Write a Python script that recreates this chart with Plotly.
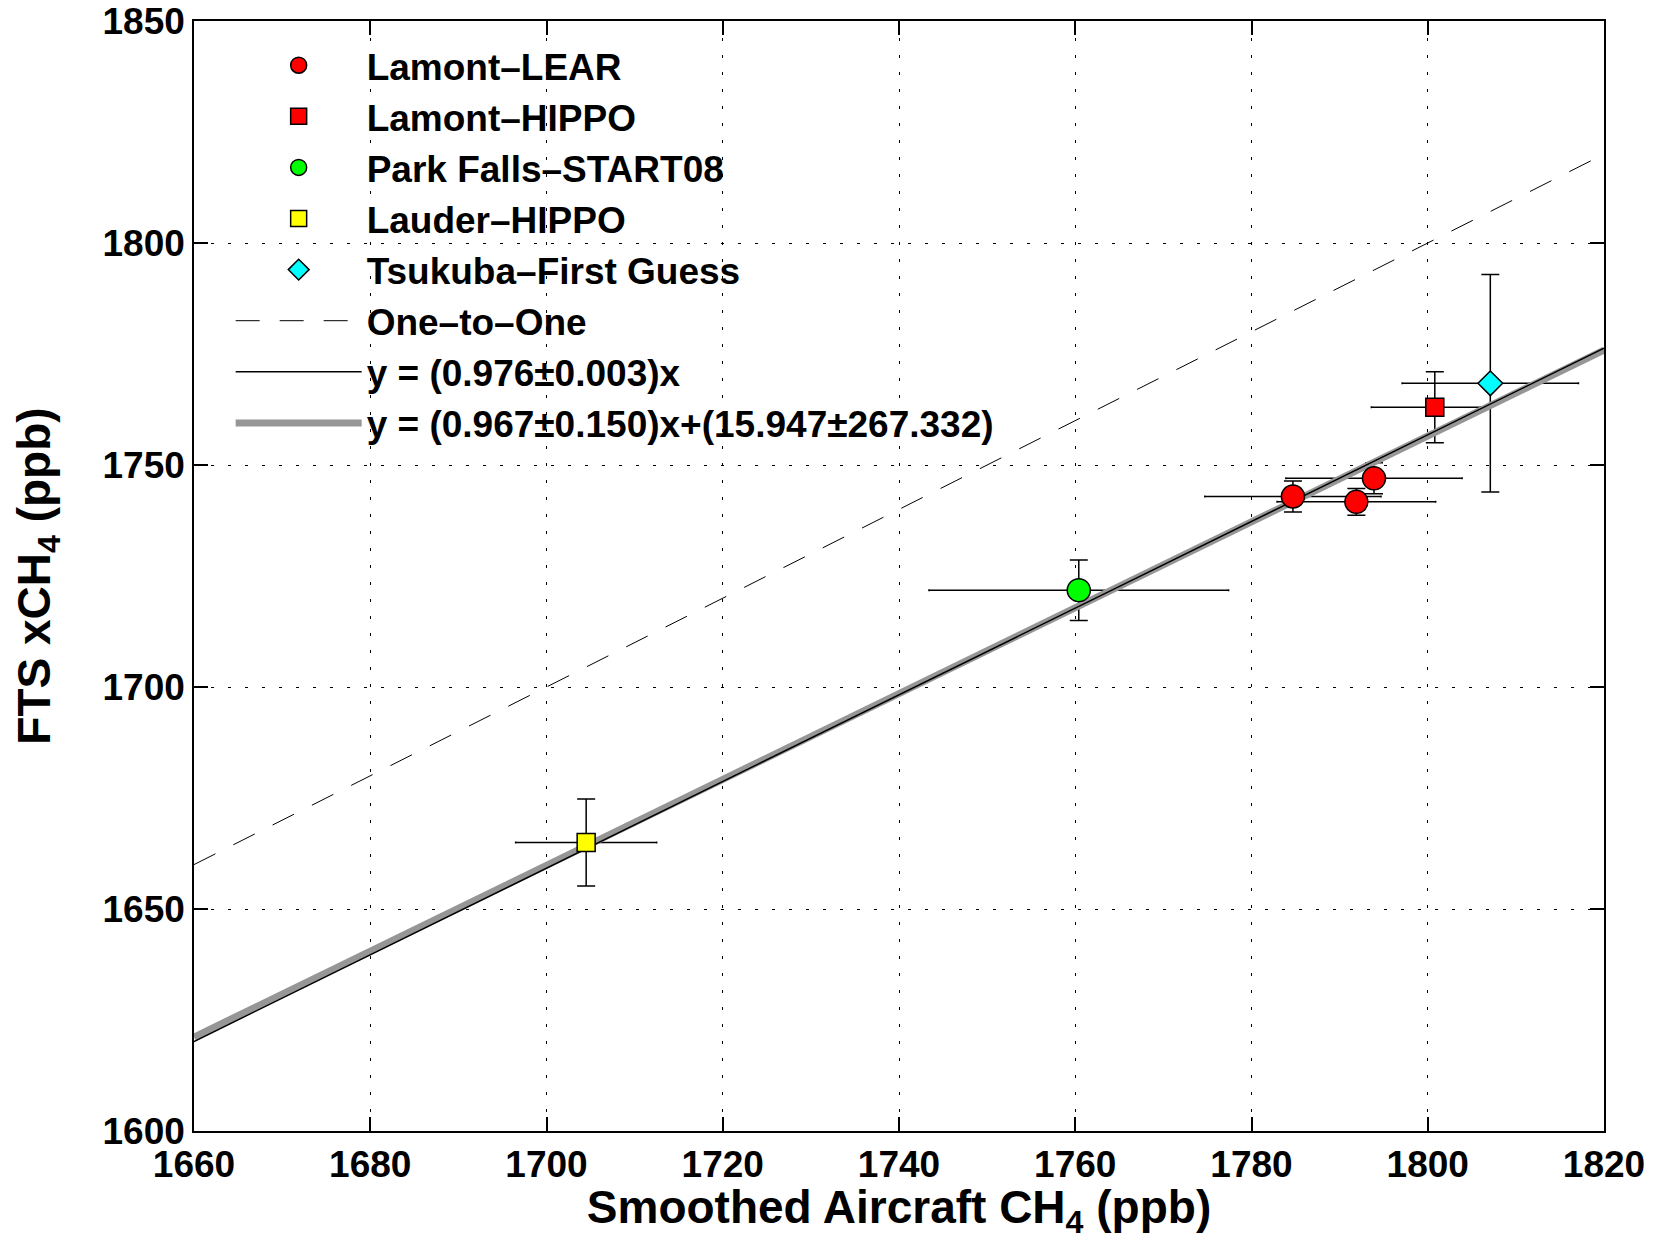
import plotly.graph_objects as go

# ---- measurements (ppb) ----
lear_x = [1784.7, 1791.9, 1793.9]
lear_y = [1742.9, 1741.7, 1747.0]
lear_xerr = [10.0, 9.0, 10.0]
lear_yerr = [3.5, 3.0, 3.5]

lhippo_x = [1800.8]
lhippo_y = [1763.0]
lhippo_xerr_plus = [5.2]
lhippo_xerr_minus = [7.2]
lhippo_yerr = [8.0]

pf_x = [1760.4]
pf_y = [1721.8]
pf_xerr = [17.0]
pf_yerr = [6.8]

lauder_x = [1704.5]
lauder_y = [1665.0]
lauder_xerr = [8.0]
lauder_yerr = [9.8]

tsu_x = [1807.1]
tsu_y = [1768.4]
tsu_xerr = [10.0]
tsu_yerr = [24.5]

# ---- fits ----
fit_x = [1660, 1820]
slope_origin = 0.976
slope_lin, intercept_lin = 0.967, 15.947

x_ticks = [1660, 1680, 1700, 1720, 1740, 1760, 1780, 1800, 1820]
y_ticks = [1600, 1650, 1700, 1750, 1800, 1850]

FONT = "Liberation Sans, Arial, Helvetica, sans-serif"

series = [
    ("Lamont–LEAR", lear_x, lear_y, lear_xerr, None, lear_yerr, "circle", "#FF0000", 23),
    ("Lamont–HIPPO", lhippo_x, lhippo_y, lhippo_xerr_plus, lhippo_xerr_minus, lhippo_yerr, "square", "#FF0000", 18),
    ("Park Falls–START08", pf_x, pf_y, pf_xerr, None, pf_yerr, "circle", "#00FF00", 23),
    ("Lauder–HIPPO", lauder_x, lauder_y, lauder_xerr, None, lauder_yerr, "square", "#FFFF00", 18),
    ("Tsukuba–First Guess", tsu_x, tsu_y, tsu_xerr, None, tsu_yerr, "diamond", "#00FFFF", 19),
]

fig = go.Figure()

# error bars first (beneath the fit lines)
for i, (name, x, y, xe, xem, ye, sym, col, sz) in enumerate(series):
    ex = dict(type="data", array=xe, color="black", thickness=1.5, width=1)
    if xem is not None:
        ex["symmetric"] = False
        ex["arrayminus"] = xem
    fig.add_trace(go.Scatter(
        x=x, y=y, mode="markers", marker=dict(size=1, opacity=0),
        error_x=ex,
        error_y=dict(type="data", array=ye, color="black", thickness=1.5, width=9),
        showlegend=False, legendgroup=f"g{i}", hoverinfo="skip",
    ))

# one-to-one and fitted lines
fig.add_trace(go.Scatter(
    x=fit_x, y=fit_x, mode="lines", name="One–to–One",
    line=dict(color="black", width=1, dash="24px,20px"),
    legendgroup="g5", legendrank=6,
))
fig.add_trace(go.Scatter(
    x=fit_x, y=[slope_lin * v + intercept_lin for v in fit_x], mode="lines",
    name="y = (0.967±0.150)x+(15.947±267.332)",
    line=dict(color="rgb(150,150,150)", width=7),
    legendgroup="g7", legendrank=8,
))
fig.add_trace(go.Scatter(
    x=fit_x, y=[slope_origin * v for v in fit_x], mode="lines",
    name="y = (0.976±0.003)x",
    line=dict(color="black", width=1.5),
    legendgroup="g6", legendrank=7,
))

# markers on top
for i, (name, x, y, xe, xem, ye, sym, col, sz) in enumerate(series):
    fig.add_trace(go.Scatter(
        x=x, y=y, mode="markers", name=name,
        marker=dict(symbol=sym, size=sz, color=col, line=dict(color="black", width=1.5)),
        legendgroup=f"g{i}", legendrank=i + 1,
    ))

axis_common = dict(
    showline=True, linecolor="black", linewidth=1.5, mirror="ticks",
    ticks="inside", ticklen=14, tickwidth=1.5, tickcolor="black",
    showgrid=True, gridcolor="black", gridwidth=1, griddash="3px,14px",
    zeroline=False, automargin=False,
    tickfont=dict(family=FONT, size=37, color="black", weight="bold"),
)

fig.update_xaxes(
    range=[1660, 1820], tickvals=x_ticks, ticktext=[str(v) for v in x_ticks],
    title=dict(text="Smoothed Aircraft CH<sub>4</sub> (ppb)",
               font=dict(family=FONT, size=46, color="black", weight="bold"),
               standoff=2),
    **axis_common,
)
fig.update_yaxes(
    range=[1600, 1850], tickvals=y_ticks, ticktext=[str(v) for v in y_ticks],
    title=dict(text="FTS xCH<sub>4</sub> (ppb)",
               font=dict(family=FONT, size=46, color="black", weight="bold"),
               standoff=37),
    **axis_common,
)

fig.update_layout(
    width=1658, height=1240,
    margin=dict(l=194, r=54, t=21, b=109, autoexpand=False),
    paper_bgcolor="white", plot_bgcolor="white",
    legend=dict(
        x=0.026, y=0.9877, xanchor="left", yanchor="top",
        xref="paper", yref="paper",
        bgcolor="rgba(0,0,0,0)", borderwidth=0,
        font=dict(family=FONT, size=37, color="black", weight="bold"),
        itemwidth=126, traceorder="normal",
        itemsizing="trace",
    ),
    showlegend=True,
)

fig.write_html("out.html")
